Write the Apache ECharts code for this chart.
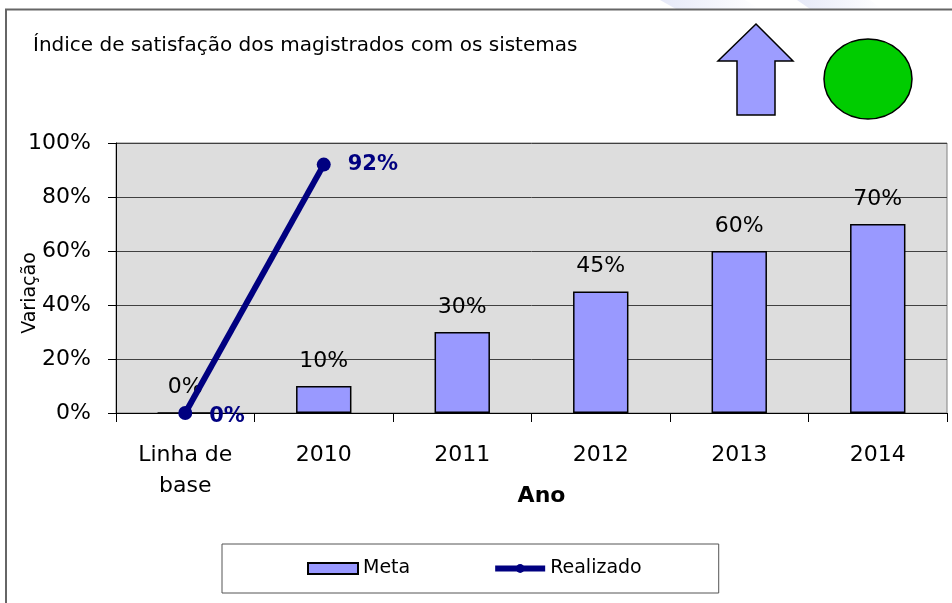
<!DOCTYPE html>
<html>
<head>
<meta charset="utf-8">
<script src="https://cdn.jsdelivr.net/npm/echarts@6/dist/echarts.min.js"></script>
<style>
html,body{margin:0;padding:0;background:#fff;}
#main{width:952px;height:603px;}
</style>
</head>
<body>
<div id="main"></div>
<script>
const titleText = 'Índice de satisfação dos magistrados com os sistemas';
const categories = ['Linha de\nbase', '2010', '2011', '2012', '2013', '2014'];
const metaValues = [0, 10, 30, 45, 60, 70];
const realizadoValues = [0, 92, null, null, null, null];
const yMin = 0, yMax = 100, yStep = 20;
const xName = 'Ano';
const yName = 'Variação';

const FONT = 'DejaVu Sans';
const chart = echarts.init(document.getElementById('main'), null, {renderer: 'canvas'});

const lineData = realizadoValues.map((v, i) => i === 0 ? {value: v, label: {offset: [0, 4]}} : v);

chart.setOption({
  backgroundColor: '#ffffff',
  animation: false,
  title: {
    text: titleText,
    left: 33, top: 36, padding: 0,
    textStyle: {fontFamily: FONT, fontSize: 20, fontWeight: 'normal', color: '#000'}
  },
  legend: {
    left: 222, top: 544,
    padding: [15, 77, 15, 85],
    itemGap: 82,
    itemWidth: 50, itemHeight: 11,
    backgroundColor: '#ffffff',
    borderColor: '#555555', borderWidth: 1,
    textStyle: {fontFamily: FONT, fontSize: 19, color: '#000'},
    data: [
      {name: 'Meta', icon: 'rect'},
      {name: 'Realizado', lineStyle: {width: 6}}
    ]
  },
  grid: {
    left: 116, right: 5, top: 143, bottom: 190,
    outerBoundsMode: 'none',
    containLabel: false,
    show: true, backgroundColor: '#dddddd', borderColor: '#808080', borderWidth: 1
  },
  xAxis: {
    type: 'category',
    data: categories,
    name: xName,
    nameLocation: 'middle',
    nameGap: 72,
    nameMoveOverlap: false,
    nameTextStyle: {fontFamily: FONT, fontSize: 22, fontWeight: 'bold', color: '#000', padding: [0, 0, 0, 20]},
    axisLine: {show: true, lineStyle: {color: '#000', width: 1}},
    axisTick: {show: true, length: 9, lineStyle: {color: '#000'}},
    axisLabel: {fontFamily: FONT, fontSize: 22, color: '#000', margin: 27, lineHeight: 31},
    splitLine: {show: false}
  },
  yAxis: {
    type: 'value',
    min: yMin, max: yMax, interval: yStep,
    name: yName,
    nameLocation: 'middle',
    nameGap: 76,
    nameRotate: 90,
    nameMoveOverlap: false,
    nameTextStyle: {fontFamily: FONT, fontSize: 19, color: '#000', padding: [0, 30, 0, 0]},
    axisLine: {show: true, lineStyle: {color: '#000', width: 1}},
    axisTick: {show: true, length: 8, lineStyle: {color: '#000'}},
    axisLabel: {fontFamily: FONT, fontSize: 22, color: '#000', margin: 25, formatter: '{value}%'},
    splitLine: {show: true, lineStyle: {color: '#404040', width: 1}}
  },
  series: [
    {
      name: 'Meta',
      type: 'bar',
      data: metaValues,
      barWidth: '40%',
      itemStyle: {color: '#9999ff', borderColor: '#000', borderWidth: 1.5},
      label: {
        show: true, position: 'top', distance: 14,
        formatter: '{c}%',
        fontFamily: FONT, fontSize: 22, color: '#000'
      },
      z: 2
    },
    {
      name: 'Realizado',
      type: 'line',
      data: lineData,
      connectNulls: false,
      symbol: 'circle',
      symbolSize: 14,
      lineStyle: {color: '#000080', width: 6},
      itemStyle: {color: '#000080'},
      label: {
        show: true, position: 'right', distance: 17,
        formatter: '{c}%',
        fontFamily: FONT, fontSize: 21, fontWeight: 'bold', color: '#000080'
      },
      z: 3
    }
  ],
  graphic: [
    {
      type: 'polygon', silent: true,
      shape: {points: [[660, 0], [745, 0], [760, 9], [676, 9]]},
      style: {fill: {type: 'linear', x: 0, y: 0, x2: 1, y2: 0, colorStops: [{offset: 0, color: '#e6e9f8'}, {offset: 1, color: '#ffffff'}]}}
    },
    {
      type: 'polygon', silent: true,
      shape: {points: [[797, 0], [870, 0], [882, 9], [810, 9]]},
      style: {fill: {type: 'linear', x: 0, y: 0, x2: 1, y2: 0, colorStops: [{offset: 0, color: '#e6e9f8'}, {offset: 1, color: '#ffffff'}]}}
    },
    {
      type: 'polyline', silent: true,
      shape: {points: [[6, 603], [6, 9.5], [952, 9.5]]},
      style: {stroke: '#666666', lineWidth: 2, fill: null}
    },
    {
      type: 'polygon', silent: true,
      shape: {points: [[756, 24], [793, 61], [775, 61], [775, 115], [737, 115], [737, 61], [718, 61]]},
      style: {fill: '#9d9dff', stroke: '#000', lineWidth: 1.5}
    },
    {
      type: 'ellipse', silent: true,
      shape: {cx: 868, cy: 79, rx: 44, ry: 40},
      style: {fill: '#00cc00', stroke: '#000', lineWidth: 1.5}
    }
  ]
});
</script>
</body>
</html>
